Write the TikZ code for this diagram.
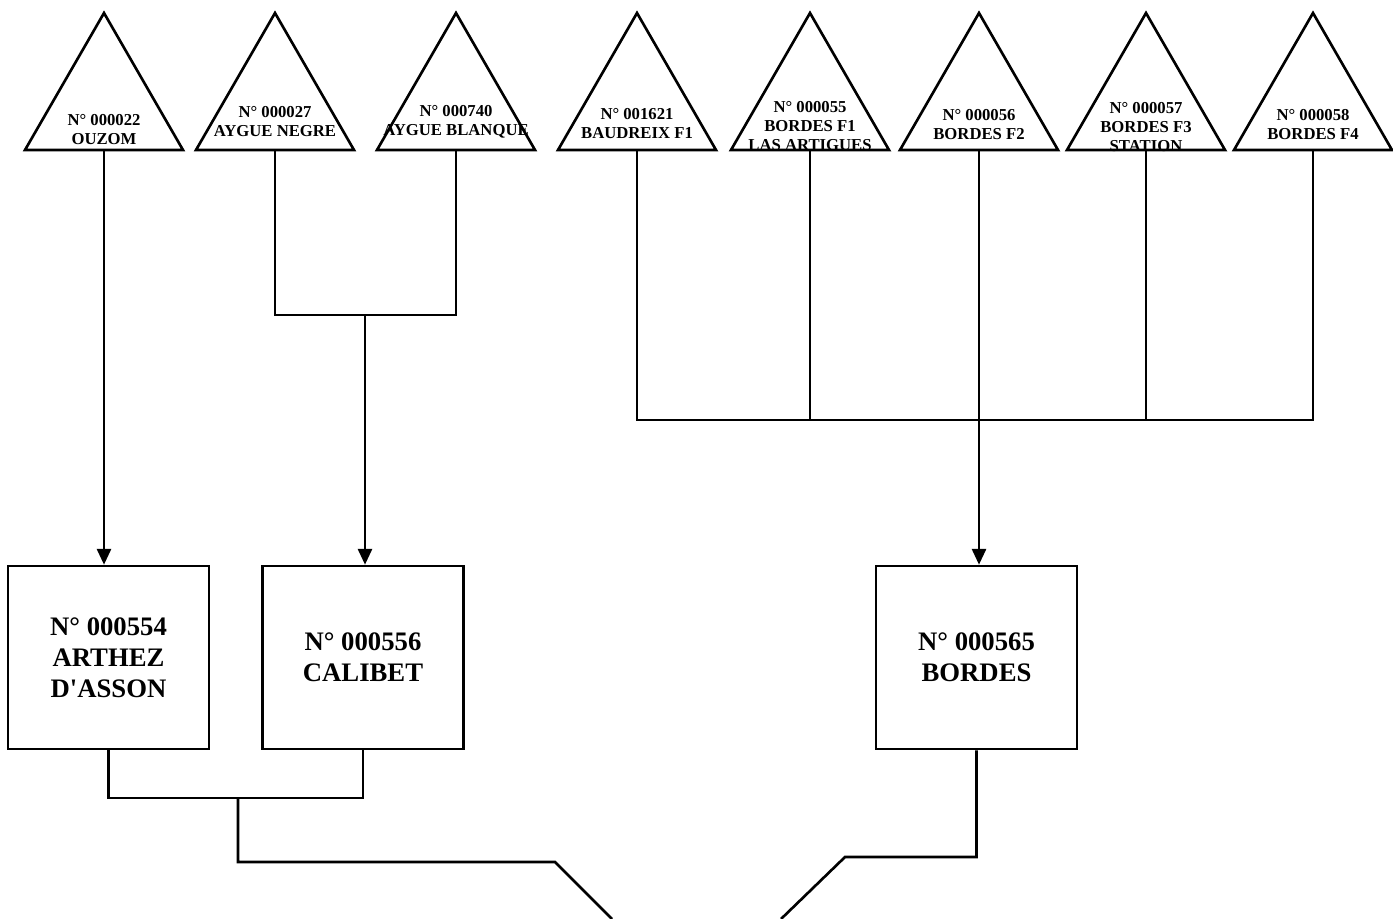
\documentclass[tikz,border=0pt]{standalone}
\usepackage{fontspec}
\setmainfont{Liberation Serif}
\usetikzlibrary{arrows.meta,positioning,calc}

\begin{document}
\begin{tikzpicture}[
x=0.02cm, y=-0.02cm,
site/.style={draw, line width=1.5pt, line join=miter},
sitelbl/.style={font=\bfseries\fontsize{9.5}{10.8}\selectfont, align=center, inner sep=0pt},
plant/.style={draw, line width=1.5pt, align=center, inner sep=0pt,
  minimum width=4.02cm, minimum height=3.66cm,
  font=\bfseries\fontsize{15.2}{17.6}\selectfont},
link/.style={line width=1.5pt},
flow/.style={-{Triangle[length=9pt, width=8pt]}, line width=1.4pt}
]
\useasboundingbox (0,0) rectangle (1393,919);

% Catchments (triangles)
\foreach \n/\x/\ly/\txt in {
  1/104/130/{N° 000022\\OUZOM},
  2/275/122/{N° 000027\\AYGUE NEGRE},
  3/456/122/{N° 000740\\AYGUE BLANQUE},
  4/637/124/{N° 001621\\BAUDREIX F1},
  5/810/126/{N° 000055\\BORDES F1\\LAS ARTIGUES},
  6/979/125/{N° 000056\\BORDES F2},
  7/1146/127/{N° 000057\\BORDES F3\\STATION},
  8/1313/125/{N° 000058\\BORDES F4}}{
  \draw[site] (\x-79,150) -- (\x,13) -- (\x+79,150) -- cycle;
  \coordinate (b\n) at (\x,150);
  \node[sitelbl] (s\n) at (\x,\ly) {\txt};
}

% Treatment plants
\node[plant] (p1) at (108.5,657.5) {N° 000554\\ARTHEZ\\D\textquotesingle ASSON};
\node[plant] (p2) at (363,657.5) {N° 000556\\CALIBET};
\node[plant] (p3) at (976.5,657.5) {N° 000565\\BORDES};

% Junctions
\coordinate (m1) at (365,315);
\coordinate (m2) at (979,420);
\coordinate (m3) at (238,798);
\coordinate (m4) at (555,862);
\coordinate (m5) at (845,857);
\coordinate (c1) at (612,919);
\coordinate (c2) at (781,919);

% Feeds into plants
\draw[flow] (b1) -- (b1 |- p1.north);

\draw[link] (b2) |- (m1) -| (b3);
\draw[flow] (m1) -- (m1 |- p2.north);

\draw[link] (b4) |- (b8 |- m2) -- (b8);
\draw[link] (b5) -- (b5 |- m2);
\draw[link] (b7) -- (b7 |- m2);
\draw[flow] (b6) -- (b6 |- p3.north);

% Outflows
\draw[link] (p1.south) |- (m3) -| (p2.south);
\draw[link] (m3) |- (m4) -- (c1);
\draw[link] (p3.south) |- (m5) -- (c2);

\end{tikzpicture}
\end{document}
